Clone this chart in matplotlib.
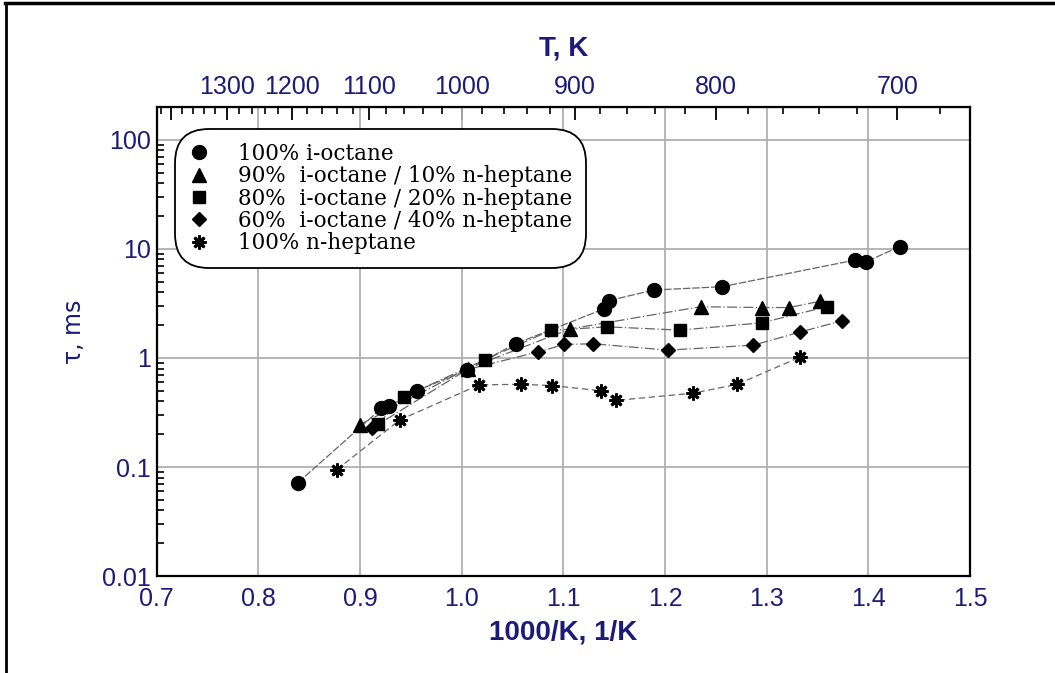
import matplotlib
matplotlib.use("Agg")
import matplotlib.pyplot as plt
from matplotlib import font_manager
from matplotlib.lines import Line2D
from matplotlib.ticker import LogLocator, NullFormatter, FixedLocator, FuncFormatter

names = {f.name for f in font_manager.fontManager.ttflist}
sans = "Liberation Sans Narrow" if "Liberation Sans Narrow" in names else "Liberation Sans"
serif = "DejaVu Serif"
navy = "#1c1c78"

# 1000/T and ignition delay tau (ms)
oct100_x = [0.839, 0.921, 0.928, 0.956, 1.005, 1.053, 1.140, 1.145, 1.189, 1.256, 1.387, 1.398, 1.431]
oct100_y = [0.072, 0.345, 0.36, 0.50, 0.78, 1.35, 2.82, 3.36, 4.2, 4.5, 7.9, 7.65, 10.5]

oct90_x = [0.900, 1.006, 1.107, 1.235, 1.295, 1.322, 1.352]
oct90_y = [0.245, 0.80, 1.85, 2.95, 2.9, 2.9, 3.3]

oct80_x = [0.918, 0.943, 1.023, 1.0875, 1.143, 1.215, 1.295, 1.359]
oct80_y = [0.25, 0.44, 0.966, 1.79, 1.93, 1.8, 2.1, 2.95]

oct60_x = [0.912, 1.005, 1.0755, 1.101, 1.129, 1.203, 1.287, 1.333, 1.374]
oct60_y = [0.228, 0.78, 1.14, 1.33, 1.35, 1.18, 1.31, 1.73, 2.19]

hep100_x = [0.877, 0.939, 1.017, 1.0585, 1.089, 1.137, 1.152, 1.228, 1.271, 1.333]
hep100_y = [0.0945, 0.27, 0.566, 0.574, 0.558, 0.50, 0.408, 0.476, 0.573, 1.02]

labels = ["100% i-octane",
          "90%  i-octane / 10% n-heptane",
          "80%  i-octane / 20% n-heptane",
          "60%  i-octane / 40% n-heptane",
          "100% n-heptane"]

T_major = [700, 800, 900, 1000, 1100, 1200, 1300, 1400]
T_minor = list(range(680, 1430, 20))

fig = plt.figure(figsize=(10.55, 6.73), dpi=100)
ax = fig.add_axes([0.1486, 0.144, 0.7708, 0.697])

series = [
    (oct100_x, oct100_y, "o", 10, (0, (6, 1.5))),
    (oct90_x, oct90_y, "^", 10, (0, (8, 2, 1, 2))),
    (oct80_x, oct80_y, "s", 9, (0, (8, 2, 1, 2))),
    (oct60_x, oct60_y, "D", 7.5, (0, (8, 2, 1, 2))),
    (hep100_x, hep100_y, (8, 2, 0), 10, (0, (5, 3))),
]
for (xs, ys, m, ms, ls), lab in zip(series, labels):
    ax.plot(xs, ys, color="#666666", lw=0.9, ls=ls, zorder=2)
    ax.plot(xs, ys, ls="none", marker=m, ms=ms, color="black",
            mec="black", mew=2 if m == (8, 2, 0) else 1, label=lab, zorder=3)

ax.set_yscale("log")
ax.set_xlim(0.7, 1.5)
ax.set_ylim(0.01, 200)
ax.set_xticks([0.7, 0.8, 0.9, 1.0, 1.1, 1.2, 1.3, 1.4, 1.5])
ax.set_xticklabels(["0.7", "0.8", "0.9", "1.0", "1.1", "1.2", "1.3", "1.4", "1.5"])
ax.set_yticks([0.01, 0.1, 1, 10, 100])
ax.set_yticklabels(["0.01", "0.1", "1", "10", "100"])
ax.yaxis.set_minor_locator(LogLocator(base=10, subs=range(2, 10)))
ax.yaxis.set_minor_formatter(NullFormatter())
ax.grid(True, which="major", color="#b0b0b0", lw=1.3, zorder=0)
ax.tick_params(axis="x", which="both", length=0, labelsize=18, labelcolor=navy, pad=8)
ax.tick_params(axis="y", which="major", length=0, labelsize=18, labelcolor=navy, pad=4)
ax.tick_params(axis="y", which="minor", direction="in", length=5, width=1.2)
for s in ax.spines.values():
    s.set_linewidth(1.6)
for t in ax.get_xticklabels() + ax.get_yticklabels():
    t.set_fontfamily(sans)

ax.set_xlabel("1000/K, 1/K", fontsize=20, fontweight="bold", color=navy,
              fontfamily=sans, labelpad=6)
ax.set_ylabel("τ, ms", fontsize=17, color=navy, fontfamily="DejaVu Sans")
ax.yaxis.set_label_coords(-0.087, 0.52)

sec = ax.secondary_xaxis("top", functions=(lambda x: 1000.0 / x, lambda t: 1000.0 / t))
sec.xaxis.set_major_locator(FixedLocator(T_major))
sec.xaxis.set_minor_locator(FixedLocator(T_minor))
sec.xaxis.set_major_formatter(FuncFormatter(lambda v, p: "" if v > 1350 else "%d" % round(v)))
sec.xaxis.set_minor_formatter(NullFormatter())
sec.tick_params(which="major", direction="in", length=9, width=1.3, labelsize=18,
                labelcolor=navy, pad=6)
sec.tick_params(which="minor", direction="in", length=5, width=1.2)
for t in sec.get_xticklabels():
    t.set_fontfamily(sans)
sec.set_xlabel("T, K", fontsize=20, fontweight="bold", color=navy, fontfamily=sans,
               labelpad=14)

leg = ax.legend(loc="upper left", bbox_to_anchor=(0.03, 0.94), prop={"family": serif, "size": 15.5},
                handlelength=1.0, handletextpad=1.3, labelspacing=0.02, borderpad=0.35,
                fancybox=True, framealpha=1, edgecolor="black", borderaxespad=0)
leg.get_frame().set_linewidth(1.3)
leg.get_frame().set_boxstyle("round,pad=0.3,rounding_size=1.6")

fig.add_artist(Line2D([0.005, 1.0], [0.996, 0.996], color="black", lw=2.5, transform=fig.transFigure))
fig.add_artist(Line2D([0.006, 0.006], [0.0, 0.996], color="black", lw=2, transform=fig.transFigure))

fig.savefig("out.png", dpi=100)
